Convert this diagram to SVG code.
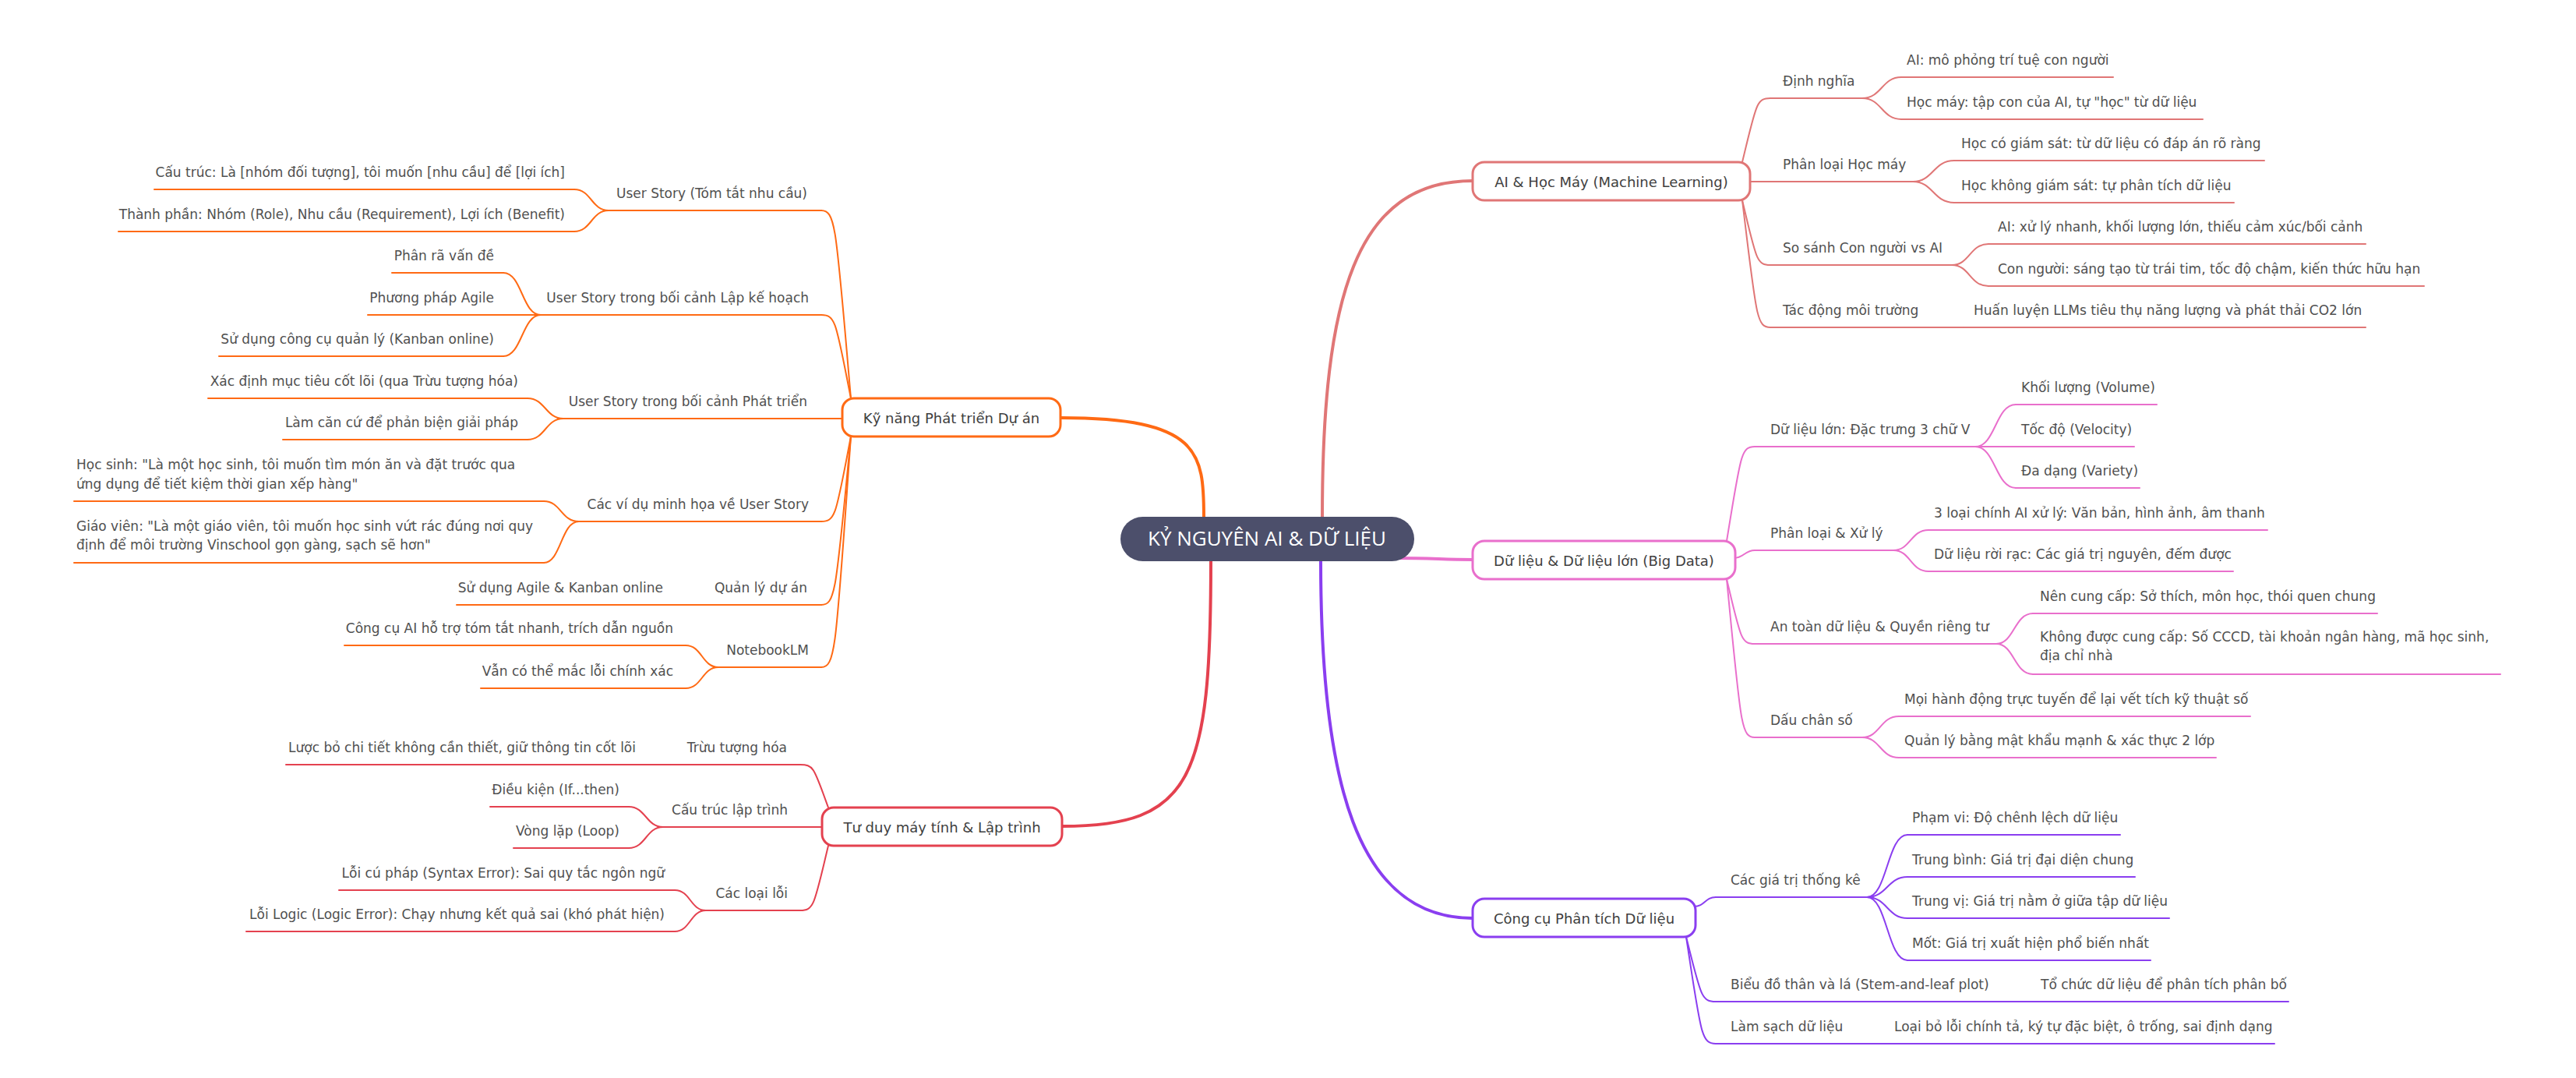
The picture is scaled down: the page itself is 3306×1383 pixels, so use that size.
<svg xmlns="http://www.w3.org/2000/svg" width="3306" height="1383" viewBox="0 0 3306 1383">
<style>
.t{font-family:"DejaVu Sans","Liberation Sans",sans-serif;font-size:17px;fill:#505050}
.r{text-anchor:end}
.b{font-family:"DejaVu Sans","Liberation Sans",sans-serif;font-size:18px;fill:#404040;text-anchor:middle}
.c{font-family:"Open Sans","Noto Sans",sans-serif;font-size:26px;fill:#ffffff;text-anchor:middle}
path,line{fill:none;stroke-linecap:round}
.m{stroke-width:4}
.s{stroke-width:2}
.ka{stroke:#e07676}.kp{stroke:#e96fcc}.kv{stroke:#8a3ef0}.ko{stroke:#ff6a14}.kr{stroke:#e4414f}
.box{fill:#ffffff;stroke-width:3}
</style>
<rect width="3306" height="1383" fill="#ffffff"/>
<g id="connectors">
<path class="m ka" d="M1697,664 C1697,380 1740,232 1890,232"/>
<path class="m ko" d="M1545,664 C1545,580 1540,536 1361,536"/>
<path class="m kr" d="M1554,720 C1554,1000 1530,1060 1363,1060"/>
<path class="m kv" d="M1695,720 C1695,1000 1740,1178 1890,1178"/>
<path class="m kp" d="M1790,716 C1840,716 1850,718 1890,718"/>
<path class="s ka" d="M2236,208 C2254,134 2254,126 2272,126"/>
<path class="s ka" d="M2236,257 C2254,332 2254,340 2272,340"/>
<path class="s ka" d="M2236,257 C2254,404 2254,420 2272,420"/>
<path class="s ka" d="M2390,126 C2415,126 2415,99 2440,99"/>
<path class="s ka" d="M2390,126 C2415,126 2415,153 2440,153"/>
<path class="s ka" d="M2455,233 C2481,233 2481,206 2508,206"/>
<path class="s ka" d="M2455,233 C2481,233 2481,260 2508,260"/>
<path class="s ka" d="M2505,340 C2528,340 2528,313 2552,313"/>
<path class="s ka" d="M2505,340 C2528,340 2528,367 2552,367"/>
<path class="s kp" d="M2216,694 C2234,585 2234,573 2252,573"/>
<path class="s kp" d="M2225,716 C2238,716 2239,706 2252,706"/>
<path class="s kp" d="M2216,743 C2234,818 2234,826 2252,826"/>
<path class="s kp" d="M2216,743 C2234,926 2234,946 2252,946"/>
<path class="s kp" d="M2535,573 C2561,573 2561,519 2587,519"/>
<path class="s kp" d="M2535,573 H2587"/>
<path class="s kp" d="M2535,573 C2561,573 2561,626 2587,626"/>
<path class="s kp" d="M2430,706 C2452,706 2452,680 2475,680"/>
<path class="s kp" d="M2430,706 C2452,706 2452,733 2475,733"/>
<path class="s kp" d="M2562,826 C2585,826 2585,787 2609,787"/>
<path class="s kp" d="M2562,826 C2585,826 2585,865 2609,865"/>
<path class="s kp" d="M2390,946 C2413,946 2413,919 2437,919"/>
<path class="s kp" d="M2390,946 C2413,946 2413,972 2437,972"/>
<path class="s kv" d="M2174,1163 C2188,1163 2188,1151 2202,1151"/>
<path class="s kv" d="M2164,1202 C2183,1277 2183,1285 2202,1285"/>
<path class="s kv" d="M2164,1202 C2183,1325 2183,1339 2202,1339"/>
<path class="s kv" d="M2396,1151 C2422,1151 2422,1071 2448,1071"/>
<path class="s kv" d="M2396,1151 C2422,1151 2422,1125 2448,1125"/>
<path class="s kv" d="M2396,1151 C2422,1151 2422,1178 2448,1178"/>
<path class="s kv" d="M2396,1151 C2422,1151 2422,1232 2448,1232"/>
<path class="s ko" d="M1092,511 C1073,294 1073,270 1054,270"/>
<path class="s ko" d="M1092,511 C1073,415 1073,404 1054,404"/>
<path class="s ko" d="M1081,537 H1050"/>
<path class="s ko" d="M1092,560 C1073,658 1073,669 1054,669"/>
<path class="s ko" d="M1092,560 C1073,754 1073,776 1054,776"/>
<path class="s ko" d="M1092,560 C1073,826 1073,856 1054,856"/>
<path class="s ko" d="M781,270 C759,270 759,243 737,243"/>
<path class="s ko" d="M781,270 C759,270 759,297 737,297"/>
<path class="s ko" d="M694,404 C670,404 670,350 646,350"/>
<path class="s ko" d="M694,404 H646"/>
<path class="s ko" d="M694,404 C670,404 670,457 646,457"/>
<path class="s ko" d="M723,537 C700,537 700,511 677,511"/>
<path class="s ko" d="M723,537 C700,537 700,564 677,564"/>
<path class="s ko" d="M743,669 C720,669 720,643 698,643"/>
<path class="s ko" d="M743,669 C720,669 720,722 698,722"/>
<path class="s ko" d="M922,856 C901,856 901,828 880,828"/>
<path class="s ko" d="M922,856 C901,856 901,883 880,883"/>
<path class="s kr" d="M1063,1036 C1045,987 1045,981 1027,981"/>
<path class="s kr" d="M1063,1085 C1045,1160 1045,1168 1027,1168"/>
<path class="s kr" d="M851,1061 C829,1061 829,1035 807,1035"/>
<path class="s kr" d="M851,1061 C829,1061 829,1088 807,1088"/>
<path class="s kr" d="M906,1168 C886,1168 886,1142 866,1142"/>
<path class="s kr" d="M906,1168 C886,1168 886,1195 866,1195"/>
</g>
<g id="n-root"><rect x="1438" y="663" width="377" height="57" rx="28.5" fill="#4c4f6b"/><text class="c" x="1626" y="700">KỶ NGUYÊN AI &amp; DỮ LIỆU</text></g>
<g id="n-ai"><rect class="box ka" x="1890" y="208" width="356" height="49" rx="15"/><text class="b" x="2068" y="240">AI &amp; Học Máy (Machine Learning)</text></g>
<g id="n-ai-dinhnghia"><path class="s ka" d="M2272,126 H2390"/><text class="t" x="2288" y="110">Định nghĩa</text></g>
<g id="n-ai-dn1"><path class="s ka" d="M2440,99 H2712"/><text class="t" x="2447" y="83">AI: mô phỏng trí tuệ con người</text></g>
<g id="n-ai-dn2"><path class="s ka" d="M2440,153 H2827"/><text class="t" x="2447" y="137">Học máy: tập con của AI, tự "học" từ dữ liệu</text></g>
<g id="n-ai-phanloai"><path class="s ka" d="M2246,233 H2455"/><text class="t" x="2288" y="217">Phân loại Học máy</text></g>
<g id="n-ai-pl1"><path class="s ka" d="M2508,206 H2906"/><text class="t" x="2517" y="190">Học có giám sát: từ dữ liệu có đáp án rõ ràng</text></g>
<g id="n-ai-pl2"><path class="s ka" d="M2508,260 H2867"/><text class="t" x="2517" y="244">Học không giám sát: tự phân tích dữ liệu</text></g>
<g id="n-ai-sosanh"><path class="s ka" d="M2272,340 H2505"/><text class="t" x="2288" y="324">So sánh Con người vs AI</text></g>
<g id="n-ai-ss1"><path class="s ka" d="M2552,313 H3036"/><text class="t" x="2564" y="297">AI: xử lý nhanh, khối lượng lớn, thiếu cảm xúc/bối cảnh</text></g>
<g id="n-ai-ss2"><path class="s ka" d="M2552,367 H3111"/><text class="t" x="2564" y="351">Con người: sáng tạo từ trái tim, tốc độ chậm, kiến thức hữu hạn</text></g>
<g id="n-ai-tacdong"><path class="s ka" d="M2272,420 H2520"/><text class="t" x="2288" y="404">Tác động môi trường</text></g>
<g id="n-ai-td1"><path class="s ka" d="M2520,420 H3036"/><text class="t" x="2533" y="404">Huấn luyện LLMs tiêu thụ năng lượng và phát thải CO2 lớn</text></g>
<g id="n-data"><rect class="box kp" x="1890" y="694" width="337" height="49" rx="15"/><text class="b" x="2058.5" y="726">Dữ liệu &amp; Dữ liệu lớn (Big Data)</text></g>
<g id="n-data-3v"><path class="s kp" d="M2252,573 H2535"/><text class="t" x="2272" y="557">Dữ liệu lớn: Đặc trưng 3 chữ V</text></g>
<g id="n-data-3v1"><path class="s kp" d="M2587,519 H2768"/><text class="t" x="2594" y="503">Khối lượng (Volume)</text></g>
<g id="n-data-3v2"><path class="s kp" d="M2587,573 H2739"/><text class="t" x="2594" y="557">Tốc độ (Velocity)</text></g>
<g id="n-data-3v3"><path class="s kp" d="M2587,626 H2746"/><text class="t" x="2594" y="610">Đa dạng (Variety)</text></g>
<g id="n-data-phanloai"><path class="s kp" d="M2252,706 H2430"/><text class="t" x="2272" y="690">Phân loại &amp; Xử lý</text></g>
<g id="n-data-pl1"><path class="s kp" d="M2475,680 H2910"/><text class="t" x="2482" y="664">3 loại chính AI xử lý: Văn bản, hình ảnh, âm thanh</text></g>
<g id="n-data-pl2"><path class="s kp" d="M2475,733 H2866"/><text class="t" x="2482" y="717">Dữ liệu rời rạc: Các giá trị nguyên, đếm được</text></g>
<g id="n-data-antoan"><path class="s kp" d="M2252,826 H2562"/><text class="t" x="2272" y="810">An toàn dữ liệu &amp; Quyền riêng tư</text></g>
<g id="n-data-at1"><path class="s kp" d="M2609,787 H3051"/><text class="t" x="2618" y="771">Nên cung cấp: Sở thích, môn học, thói quen chung</text></g>
<g id="n-data-at2"><path class="s kp" d="M2609,865 H3209"/><text class="t" x="2618" y="823">Không được cung cấp: Số CCCD, tài khoản ngân hàng, mã học sinh,<tspan x="2618" y="847">địa chỉ nhà</tspan></text></g>
<g id="n-data-dauchan"><path class="s kp" d="M2252,946 H2390"/><text class="t" x="2272" y="930">Dấu chân số</text></g>
<g id="n-data-dc1"><path class="s kp" d="M2437,919 H2888"/><text class="t" x="2444" y="903">Mọi hành động trực tuyến để lại vết tích kỹ thuật số</text></g>
<g id="n-data-dc2"><path class="s kp" d="M2437,972 H2844"/><text class="t" x="2444" y="956">Quản lý bằng mật khẩu mạnh &amp; xác thực 2 lớp</text></g>
<g id="n-tools"><rect class="box kv" x="1890" y="1153" width="286" height="49" rx="15"/><text class="b" x="2033" y="1185">Công cụ Phân tích Dữ liệu</text></g>
<g id="n-tools-thongke"><path class="s kv" d="M2202,1151 H2396"/><text class="t" x="2221" y="1135">Các giá trị thống kê</text></g>
<g id="n-tools-tk1"><path class="s kv" d="M2448,1071 H2721"/><text class="t" x="2454" y="1055">Phạm vi: Độ chênh lệch dữ liệu</text></g>
<g id="n-tools-tk2"><path class="s kv" d="M2448,1125 H2740"/><text class="t" x="2454" y="1109">Trung bình: Giá trị đại diện chung</text></g>
<g id="n-tools-tk3"><path class="s kv" d="M2448,1178 H2784"/><text class="t" x="2454" y="1162">Trung vị: Giá trị nằm ở giữa tập dữ liệu</text></g>
<g id="n-tools-tk4"><path class="s kv" d="M2448,1232 H2760"/><text class="t" x="2454" y="1216">Mốt: Giá trị xuất hiện phổ biến nhất</text></g>
<g id="n-tools-bieudo"><path class="s kv" d="M2202,1285 H2600"/><text class="t" x="2221" y="1269">Biểu đồ thân và lá (Stem-and-leaf plot)</text></g>
<g id="n-tools-bd1"><path class="s kv" d="M2600,1285 H2937"/><text class="t" x="2619" y="1269">Tổ chức dữ liệu để phân tích phân bố</text></g>
<g id="n-tools-lamsach"><path class="s kv" d="M2202,1339 H2415"/><text class="t" x="2221" y="1323">Làm sạch dữ liệu</text></g>
<g id="n-tools-ls1"><path class="s kv" d="M2415,1339 H2919"/><text class="t" x="2431" y="1323">Loại bỏ lỗi chính tả, ký tự đặc biệt, ô trống, sai định dạng</text></g>
<g id="n-proj"><rect class="box ko" x="1081" y="511" width="280" height="49" rx="15"/><text class="b" x="1221" y="543">Kỹ năng Phát triển Dự án</text></g>
<g id="n-proj-us"><path class="s ko" d="M781,270 H1054"/><text class="t r" x="1036" y="254">User Story (Tóm tắt nhu cầu)</text></g>
<g id="n-proj-us1"><path class="s ko" d="M198,243 H737"/><text class="t r" x="725" y="227">Cấu trúc: Là [nhóm đối tượng], tôi muốn [nhu cầu] để [lợi ích]</text></g>
<g id="n-proj-us2"><path class="s ko" d="M152,297 H737"/><text class="t r" x="725" y="281">Thành phần: Nhóm (Role), Nhu cầu (Requirement), Lợi ích (Benefit)</text></g>
<g id="n-proj-lkh"><path class="s ko" d="M694,404 H1054"/><text class="t r" x="1038" y="388">User Story trong bối cảnh Lập kế hoạch</text></g>
<g id="n-proj-lkh1"><path class="s ko" d="M503,350 H646"/><text class="t r" x="634" y="334">Phân rã vấn đề</text></g>
<g id="n-proj-lkh2"><path class="s ko" d="M472,404 H646"/><text class="t r" x="634" y="388">Phương pháp Agile</text></g>
<g id="n-proj-lkh3"><path class="s ko" d="M281,457 H646"/><text class="t r" x="634" y="441">Sử dụng công cụ quản lý (Kanban online)</text></g>
<g id="n-proj-pt"><path class="s ko" d="M723,537 H1050"/><text class="t r" x="1036" y="521">User Story trong bối cảnh Phát triển</text></g>
<g id="n-proj-pt1"><path class="s ko" d="M267,511 H677"/><text class="t r" x="665" y="495">Xác định mục tiêu cốt lõi (qua Trừu tượng hóa)</text></g>
<g id="n-proj-pt2"><path class="s ko" d="M363,564 H677"/><text class="t r" x="665" y="548">Làm căn cứ để phản biện giải pháp</text></g>
<g id="n-proj-vd"><path class="s ko" d="M743,669 H1054"/><text class="t r" x="1038" y="653">Các ví dụ minh họa về User Story</text></g>
<g id="n-proj-vd1"><path class="s ko" d="M95,643 H698"/><text class="t" x="98" y="602">Học sinh: "Là một học sinh, tôi muốn tìm món ăn và đặt trước qua<tspan x="98" y="627">ứng dụng để tiết kiệm thời gian xếp hàng"</tspan></text></g>
<g id="n-proj-vd2"><path class="s ko" d="M95,722 H698"/><text class="t" x="98" y="681">Giáo viên: "Là một giáo viên, tôi muốn học sinh vứt rác đúng nơi quy<tspan x="98" y="705">định để môi trường Vinschool gọn gàng, sạch sẽ hơn"</tspan></text></g>
<g id="n-proj-qlda"><path class="s ko" d="M880,776 H1054"/><text class="t r" x="1036" y="760">Quản lý dự án</text></g>
<g id="n-proj-qlda1"><path class="s ko" d="M586,776 H880"/><text class="t r" x="851" y="760">Sử dụng Agile &amp; Kanban online</text></g>
<g id="n-proj-nb"><path class="s ko" d="M922,856 H1054"/><text class="t r" x="1038" y="840">NotebookLM</text></g>
<g id="n-proj-nb1"><path class="s ko" d="M442,828 H880"/><text class="t r" x="864" y="812">Công cụ AI hỗ trợ tóm tắt nhanh, trích dẫn nguồn</text></g>
<g id="n-proj-nb2"><path class="s ko" d="M617,883 H880"/><text class="t r" x="864" y="867">Vẫn có thể mắc lỗi chính xác</text></g>
<g id="n-ct"><rect class="box kr" x="1055" y="1036" width="308" height="49" rx="15"/><text class="b" x="1209" y="1068">Tư duy máy tính &amp; Lập trình</text></g>
<g id="n-ct-tt"><path class="s kr" d="M860,981 H1027"/><text class="t r" x="1010" y="965">Trừu tượng hóa</text></g>
<g id="n-ct-tt1"><path class="s kr" d="M367,981 H860"/><text class="t r" x="816" y="965">Lược bỏ chi tiết không cần thiết, giữ thông tin cốt lõi</text></g>
<g id="n-ct-ctlt"><path class="s kr" d="M851,1061 H1055"/><text class="t r" x="1011" y="1045">Cấu trúc lập trình</text></g>
<g id="n-ct-ctlt1"><path class="s kr" d="M629,1035 H807"/><text class="t r" x="795" y="1019">Điều kiện (If...then)</text></g>
<g id="n-ct-ctlt2"><path class="s kr" d="M659,1088 H807"/><text class="t r" x="795" y="1072">Vòng lặp (Loop)</text></g>
<g id="n-ct-loi"><path class="s kr" d="M906,1168 H1027"/><text class="t r" x="1011" y="1152">Các loại lỗi</text></g>
<g id="n-ct-loi1"><path class="s kr" d="M435,1142 H866"/><text class="t r" x="853" y="1126">Lỗi cú pháp (Syntax Error): Sai quy tắc ngôn ngữ</text></g>
<g id="n-ct-loi2"><path class="s kr" d="M316,1195 H866"/><text class="t r" x="853" y="1179">Lỗi Logic (Logic Error): Chạy nhưng kết quả sai (khó phát hiện)</text></g>
</svg>
